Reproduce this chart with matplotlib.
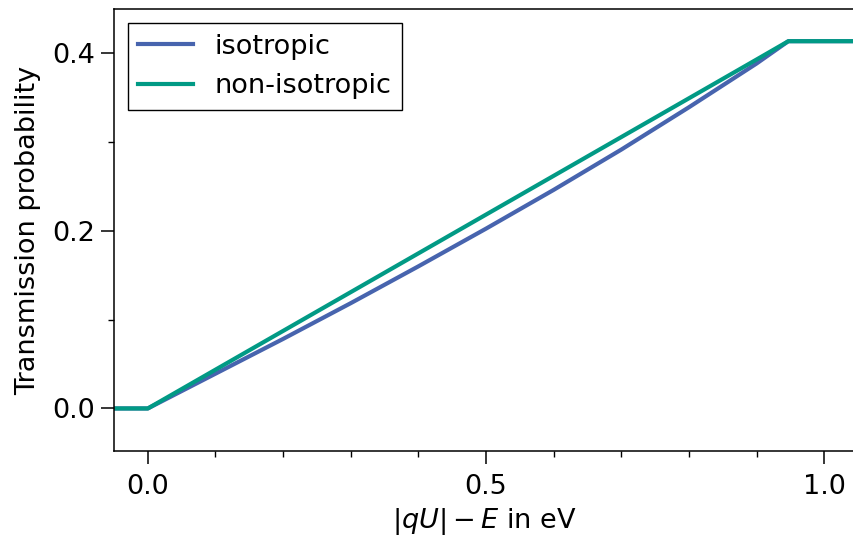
import matplotlib
matplotlib.use('Agg')
import matplotlib.pyplot as plt
from matplotlib.ticker import MultipleLocator

# surplus energy |qU| - E in eV
energy = [-0.1, 0.0, 0.1, 0.2, 0.3, 0.4, 0.5, 0.6, 0.7, 0.8, 0.9, 0.947, 1.1]
# transmission probability for both angular distributions
trans_iso = [0.0, 0.0, 0.0391, 0.0782, 0.1184, 0.1598, 0.2022, 0.2458, 0.2911, 0.3387, 0.3879, 0.413, 0.413]
trans_noniso = [0.0, 0.0, 0.0436, 0.0872, 0.1308, 0.1744, 0.2180, 0.2616, 0.3052, 0.3488, 0.3924, 0.413, 0.413]

labels = ['isotropic', 'non-isotropic']
colors = ['#4764ae', '#019a85']

plt.rcParams['font.size'] = 19.5

fig = plt.figure(figsize=(8.54, 5.39), dpi=100)
ax = fig.add_axes([0.1335, 0.163, 0.8665, 0.820])

ax.plot(energy, trans_iso, color=colors[0], linewidth=3, label=labels[0])
ax.plot(energy, trans_noniso, color=colors[1], linewidth=3, label=labels[1])

ax.set_xlim(-0.05, 1.044)
ax.set_ylim(-0.048, 0.449)
ax.xaxis.set_major_locator(MultipleLocator(0.5))
ax.xaxis.set_minor_locator(MultipleLocator(0.1))
ax.yaxis.set_major_locator(MultipleLocator(0.2))
ax.yaxis.set_minor_locator(MultipleLocator(0.1))

ax.spines['right'].set_visible(False)
for sp in ax.spines.values():
    sp.set_linewidth(1.1)
ax.tick_params(which='major', direction='out', length=9.5, width=1.1)
ax.tick_params(axis='x', which='major', pad=7)
ax.tick_params(axis='y', which='major', pad=4)
ax.tick_params(which='minor', direction='out', length=4, width=1.0)

ax.set_xlabel(r'$|qU| - E$ in eV', labelpad=4)
ax.set_ylabel('Transmission probability', labelpad=8)

leg = ax.legend(loc='upper left', fancybox=False, framealpha=1, edgecolor='black',
                borderaxespad=0.5)
leg.get_frame().set_linewidth(1.0)

fig.savefig('out.png', dpi=100)
